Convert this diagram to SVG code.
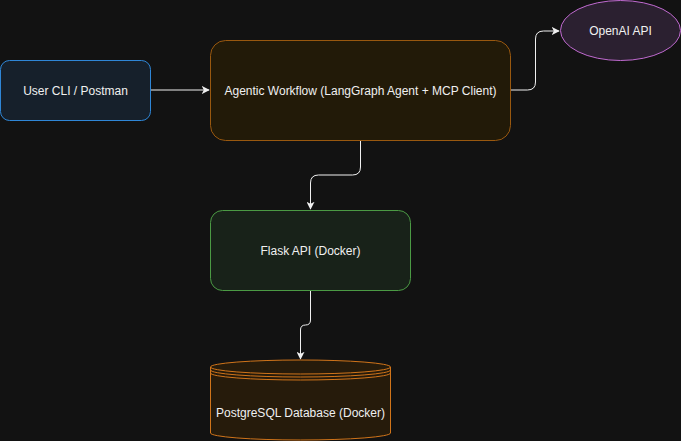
<svg xmlns="http://www.w3.org/2000/svg" width="681" height="441" viewBox="0 0 681 441">
<style>
text{font-family:"Liberation Sans",Arial,sans-serif;font-size:12px;fill:#f0f0f0;text-anchor:middle;dominant-baseline:central}
.edge{fill:none;stroke:#f0f0f0;stroke-width:1}
</style>
<defs>
<marker id="arr" viewBox="0 0 10 10" refX="9" refY="5" markerWidth="8" markerHeight="8" markerUnits="userSpaceOnUse" orient="auto">
<path d="M0,0 L10,5 L0,10 L2.5,5 Z" fill="#f0f0f0"/>
</marker>
</defs>
<rect width="681" height="441" fill="#121212"/>
<g id="connectors">
<path class="edge" d="M150.5,90 L209,90" marker-end="url(#arr)"/>
<path class="edge" d="M510.5,90 L527.5,90 Q535.5,90 535.5,82 L535.5,39 Q535.5,31 543.5,31 L559,31" marker-end="url(#arr)"/>
<path class="edge" d="M360.5,140.5 L360.5,167 Q360.5,175 352.5,175 L318.5,175 Q310.5,175 310.5,183 L310.5,209" marker-end="url(#arr)"/>
<path class="edge" d="M310.5,290.5 L310.5,320 Q310.5,325 305.5,325 Q300.5,325 300.5,330 L300.5,359" marker-end="url(#arr)"/>
</g>
<g id="user">
<rect x="0.5" y="60.5" width="150" height="60" rx="9" fill="#16202b" stroke="#2f86d6"/>
<text x="75.5" y="90.5">User CLI / Postman</text>
</g>
<g id="agent">
<rect x="210.5" y="40.5" width="300" height="100" rx="15" fill="#221a08" stroke="#99580f"/>
<text x="360.5" y="90.5">Agentic Workflow (LangGraph Agent + MCP Client)</text>
</g>
<g id="openai">
<ellipse cx="620.5" cy="30.5" rx="60" ry="30" fill="#2b2030" stroke="#c06ad0"/>
<text x="620.5" y="30.5">OpenAI API</text>
</g>
<g id="flask">
<rect x="210.5" y="210.5" width="200" height="80" rx="12" fill="#182219" stroke="#4b9a44"/>
<text x="310.5" y="250.5">Flask API (Docker)</text>
</g>
<g id="postgres">
<path d="M210.5,367 A90,7 0 0 1 390.5,367 L390.5,433 A90,7 0 0 1 210.5,433 Z" fill="#261b0b" stroke="#d0741a"/>
<path d="M210.5,367 A90,7 0 0 0 390.5,367 M210.5,370 A90,7 0 0 0 390.5,370 M210.5,373 A90,7 0 0 0 390.5,373" fill="none" stroke="#d0741a"/>
<text x="300.5" y="413">PostgreSQL Database (Docker)</text>
</g>
</svg>
